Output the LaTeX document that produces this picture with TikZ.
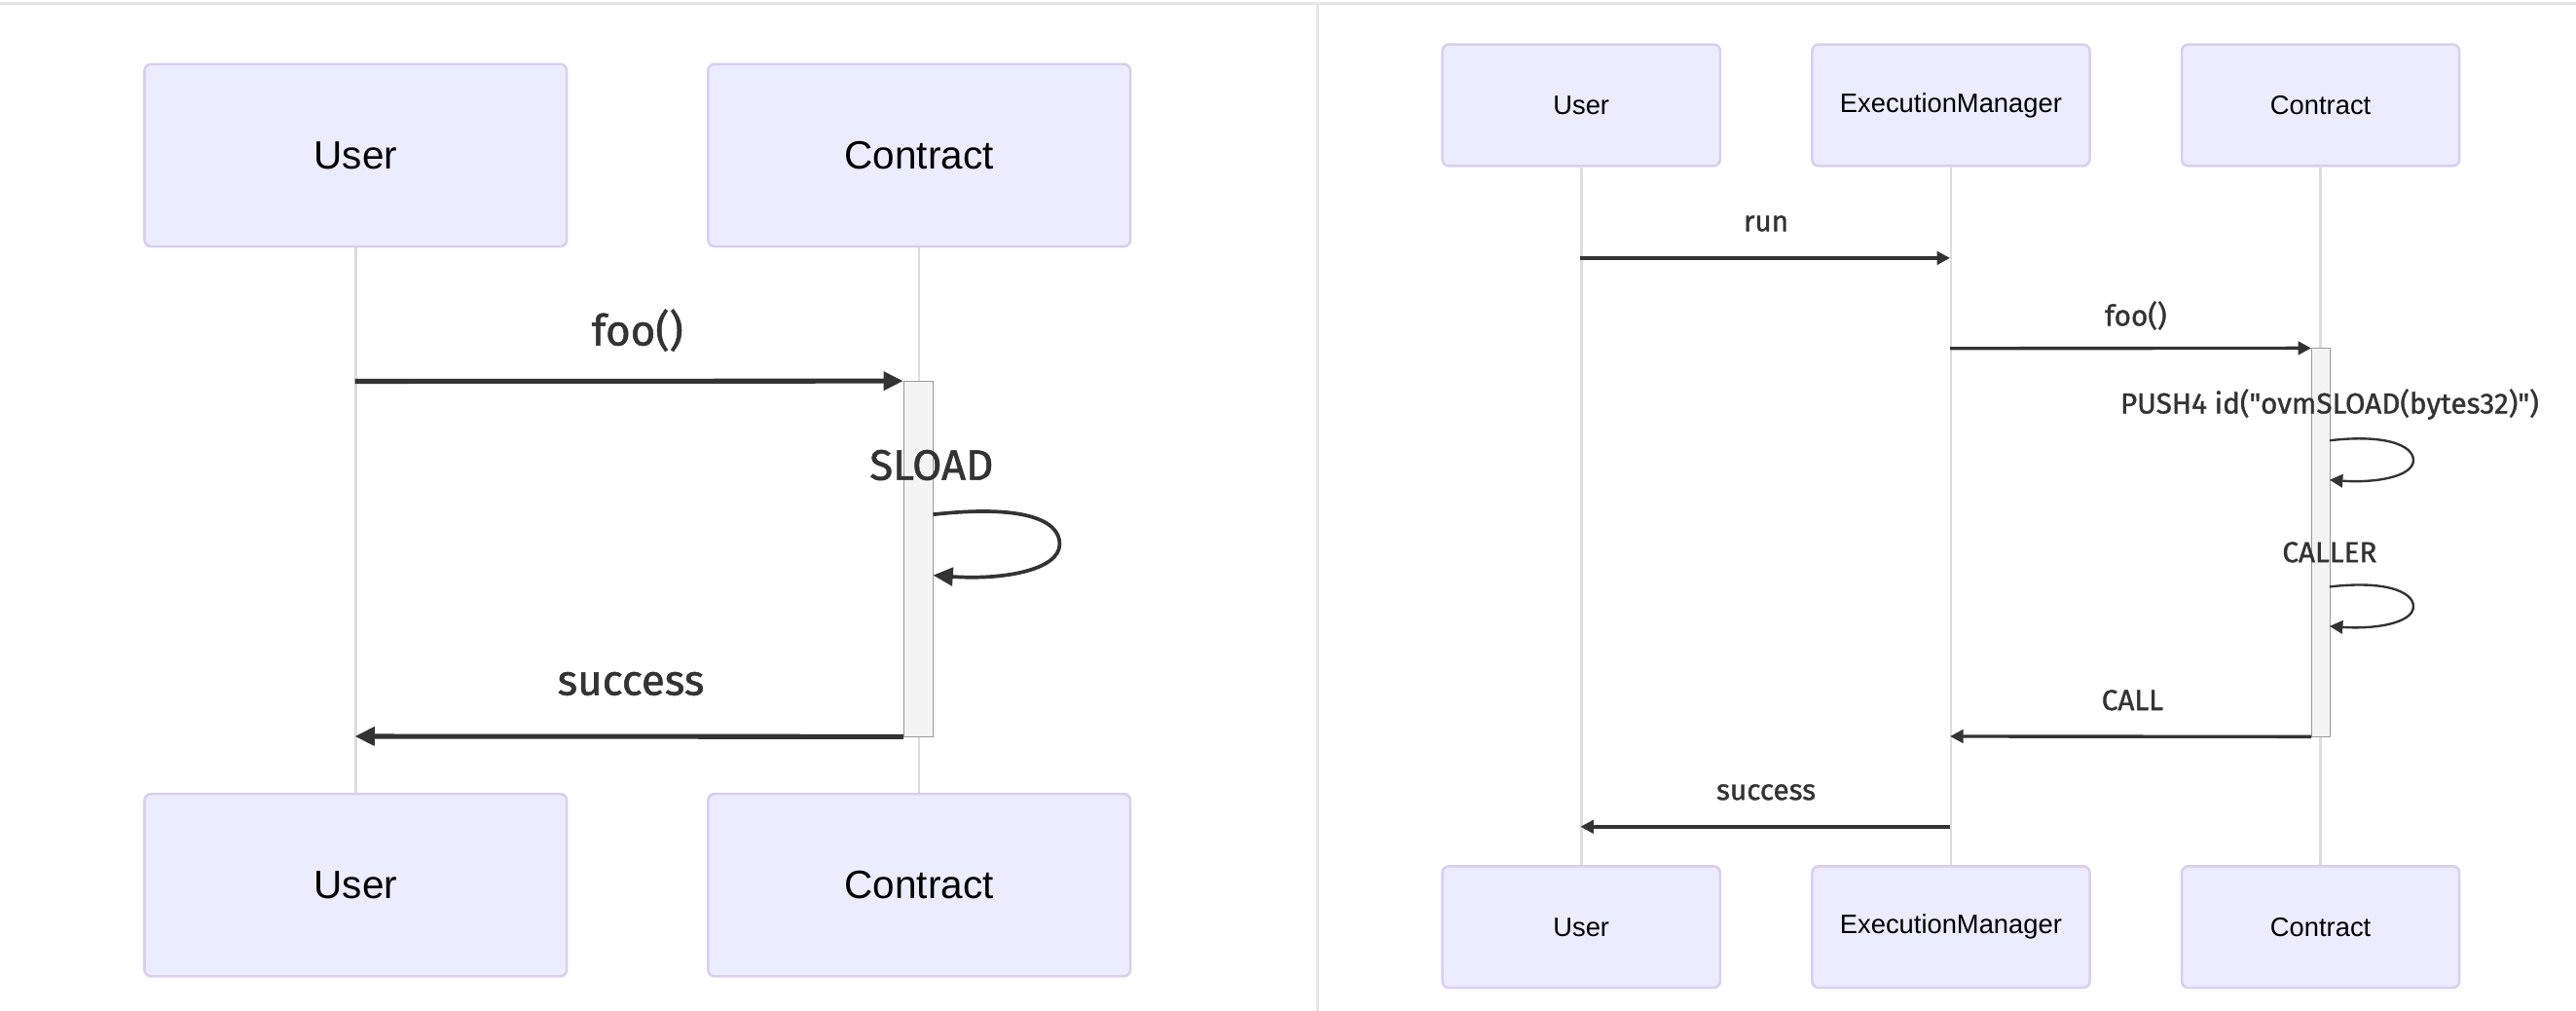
\documentclass[tikz,border=0pt]{standalone}
\usepackage{fontspec}
\setmainfont{Liberation Sans}
\newfontfamily\msgfont[FakeBold=1.2]{Fira Sans}
\usetikzlibrary{arrows.meta}
\definecolor{actorfill}{HTML}{ECECFF}
\definecolor{actorline}{HTML}{DACEF3}
\definecolor{lifeline}{HTML}{DDDDDD}
\definecolor{msgline}{HTML}{333333}
\definecolor{actfill}{HTML}{F4F4F4}
\definecolor{actline}{HTML}{999999}
\definecolor{panelline}{HTML}{E6E6E6}
\tikzset{
  actor/.style={draw=actorline, fill=actorfill, rounded corners=4pt, inner sep=0pt, line width=1.5pt},
  bigactor/.style={actor, minimum width=257pt, minimum height=111pt, font=\fontsize{24}{28}\selectfont},
  smallactor/.style={actor, minimum width=169pt, minimum height=74pt, font=\fontsize{16.2}{19}\selectfont},
  life/.style={draw=lifeline, line width=1.5pt},
  bigmsg/.style={draw=msgline, line width=3pt, -{Triangle[length=12pt,width=11pt]}},
  smallmsg/.style={draw=msgline, line width=2pt, -{Triangle[length=8pt,width=8pt]}},
  bigloop/.style={bigmsg, line width=2.2pt},
  smallloop/.style={smallmsg, line width=1.4pt},
  biglabel/.style={font=\msgfont\fontsize{26}{30}\selectfont, text=msgline, inner sep=0pt},
  smalllabel/.style={font=\msgfont\fontsize{17.6}{21}\selectfont, text=msgline, inner sep=0pt},
  activation/.style={draw=actline, fill=actfill, inner sep=0pt},
}
\begin{document}
\begin{tikzpicture}[x=1pt, y=-1pt]
  \useasboundingbox (0,0) rectangle (1568,615);
  \draw[panelline, line width=2pt] (0,2) -- (1568,2) (802,2) -- (802,615);

  \node[bigactor] (userTopL) at (216.5,94.5) {User};
  \node[bigactor] (contractTopL) at (559.5,94.5) {Contract};
  \node[bigactor] (userBotL) at (216.5,538.5) {User};
  \node[bigactor] (contractBotL) at (559.5,538.5) {Contract};
  \draw[life] (userTopL) -- (userBotL);
  \draw[life] (contractTopL) -- (contractBotL);
  \node[activation, minimum width=18pt, minimum height=216pt] (actL) at (559,340) {};
  \coordinate (fooL) at (216,232);
  \coordinate (successL) at (216,448);
  \coordinate (sloadA) at (568,313);
  \coordinate (sloadB) at (568,350);
  \draw[bigmsg] (fooL) -- (actL.north west);
  \draw[bigloop] (sloadA) .. controls (622,307) and (645,316) .. (645,331)
    .. controls (645,347) and (610,353) .. (sloadB);
  \draw[bigmsg] (actL.south west) -- (successL);
  \node[biglabel] (fooLabelL) at (388,201) {foo()};
  \node[biglabel] (sloadLabel) at (567,283) {SLOAD};
  \node[biglabel] (successLabelL) at (384,416) {success};

  \node[smallactor] (userTopR) at (962.5,64) {User};
  \node[smallactor] (managerTopR) at (1187.5,64) {ExecutionManager};
  \node[smallactor] (contractTopR) at (1412.5,64) {Contract};
  \node[smallactor] (userBotR) at (962.5,564) {User};
  \node[smallactor] (managerBotR) at (1187.5,564) {ExecutionManager};
  \node[smallactor] (contractBotR) at (1412.5,564) {Contract};
  \draw[life] (userTopR) -- (userBotR);
  \draw[life] (managerTopR) -- (managerBotR);
  \draw[life] (contractTopR) -- (contractBotR);
  \node[activation, minimum width=11pt, minimum height=236pt] (actR) at (1412.5,330) {};
  \coordinate (runA) at (962,157);
  \coordinate (runB) at (1187,157);
  \coordinate (fooR) at (1187,212);
  \coordinate (callR) at (1187,448);
  \coordinate (successA) at (1187,503);
  \coordinate (successB) at (962,503);
  \coordinate (pushA) at (1418,268);
  \coordinate (pushB) at (1418,292);
  \coordinate (callerA) at (1418,357);
  \coordinate (callerB) at (1418,381);
  \draw[smallmsg] (runA) -- (runB);
  \draw[smallmsg] (fooR) -- (actR.north west);
  \draw[smallloop] (pushA) .. controls (1452,264) and (1469,271) .. (1469,280)
    .. controls (1469,290) and (1446,294) .. (pushB);
  \draw[smallloop] (callerA) .. controls (1452,353) and (1469,360) .. (1469,369)
    .. controls (1469,379) and (1446,383) .. (callerB);
  \draw[smallmsg] (actR.south west) -- (callR);
  \draw[smallmsg] (successA) -- (successB);
  \node[smalllabel] (runLabel) at (1075,136) {run};
  \node[smalllabel] (fooLabelR) at (1300,192) {foo()};
  \node[smalllabel] (pushLabel) at (1418,246) {PUSH4 id("ovmSLOAD(bytes32)")};
  \node[smalllabel] (callerLabel) at (1418,336) {CALLER};
  \node[smalllabel] (callLabel) at (1298,426) {CALL};
  \node[smalllabel] (successLabelR) at (1075,482) {success};
\end{tikzpicture}
\end{document}
